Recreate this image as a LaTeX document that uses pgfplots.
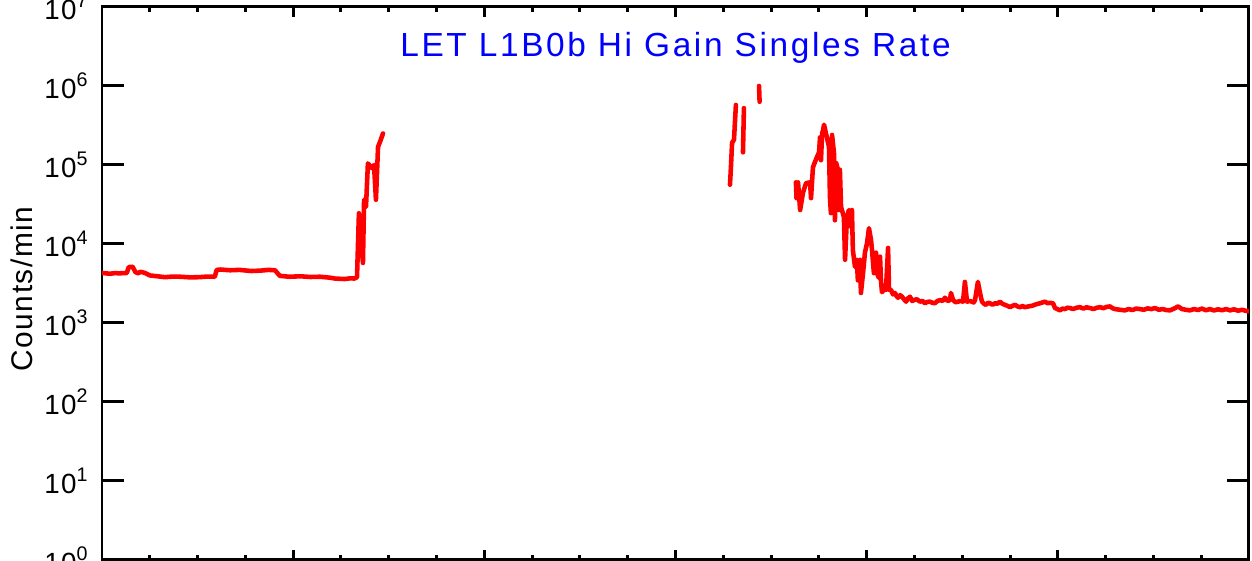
\documentclass[border=0pt]{standalone}
\usepackage{pgfplots}
\pgfplotsset{compat=1.18}
\usepackage{fontspec}
\setmainfont{Liberation Sans}
\newfontfamily\spaced[LetterSpace=8]{Liberation Sans}
\newfontfamily\spacedb[LetterSpace=5]{Liberation Sans}
\newcommand\tp[1]{10\raisebox{0.42em}{\fontsize{5.6}{6}\selectfont #1}}
\tikzset{ser/.style={red, line width=1.3pt, line join=round, line cap=round, mark=none}}
\begin{document}
\begin{tikzpicture}
\begin{axis}[
  at={(0,0)}, anchor=south west,
  scale only axis, width=11.47cm, height=5.53cm,
  ymode=log, ymin=1, ymax=1e7,
  xmin=0, xmax=6,
  xtick={0,1,2,3,4,5,6}, minor x tick num=3, xticklabels={},
  ytick={1,10,100,1000,10000,100000,1000000,10000000},
  yticklabels={\tp{0},\tp{1},\tp{2},\tp{3},\tp{4},\tp{5},\tp{6},\tp{7}},
  yminorticks=false,
  yticklabel style={font=\spacedb\fontsize{7.9}{9}\selectfont, xshift=-0.02cm},
  axis line style={line width=0.85pt, black},
  xtick style={line width=0.85pt, black, /pgfplots/major tick length=0.10cm, /pgfplots/minor tick length=0.05cm},
  ytick style={line width=0.85pt, black, /pgfplots/major tick length=0.22cm},
  ylabel={Counts/min},
  ylabel style={font=\spacedb\fontsize{8.5}{10}\selectfont, at={(axis description cs:0,0.49)}, anchor=center, yshift=0.80cm},
  clip=true,
]
\addplot[ser] coordinates {
(0,4300) (0.02,4250) (0.04,4200) (0.07,4280) (0.09,4250) (0.13,4300) (0.14,5100) (0.16,5150) (0.175,4400) (0.19,4250) (0.20,4450) (0.225,4300) (0.25,4000) (0.29,3900) (0.33,3800) (0.37,3870) (0.41,3850) (0.46,3780) (0.51,3800) (0.55,3870) (0.59,3850) (0.60,4700) (0.62,4750) (0.67,4650) (0.72,4700) (0.78,4550) (0.83,4600) (0.87,4700) (0.905,4650) (0.93,3950) (0.98,3850) (1.04,3900) (1.09,3820) (1.14,3850) (1.19,3750) (1.22,3650) (1.27,3600) (1.30,3680) (1.32,3650) (1.334,3800) (1.344,24500) (1.365,5750) (1.371,36300) (1.381,29500) (1.391,104700) (1.412,91200) (1.423,100000) (1.433,36300) (1.444,169800) (1.454,195000) (1.470,251000)
};
\addplot[ser] coordinates {
(3.285,56234) (3.290,93325) (3.296,190546) (3.306,208930) (3.316,575440)
};
\addplot[ser] coordinates {
(3.353,144544) (3.358,524807)
};
\addplot[ser] coordinates {
(3.437,1000000) (3.440,630957)
};
\addplot[ser] coordinates {
(3.630,60256) (3.633,38019) (3.641,60256) (3.652,26915) (3.667,44668) (3.683,58884) (3.704,60256) (3.709,38019) (3.719,93325) (3.730,109648) (3.740,125893) (3.751,144544) (3.756,223872) (3.761,114815) (3.767,251189) (3.772,275423) (3.777,323594) (3.803,169824) (3.808,38905) (3.813,24547) (3.819,239883) (3.829,141254) (3.834,19953) (3.840,107152) (3.850,87096) (3.855,26915) (3.860,87096) (3.866,29512) (3.881,21878) (3.887,6310) (3.897,21878) (3.907,26915) (3.918,16596) (3.923,26915) (3.928,8318) (3.939,5129) (3.949,6310) (3.954,3467) (3.965,6310) (3.970,2399) (3.981,4266) (3.991,7762) (4.002,10233) (4.012,15849) (4.023,11220) (4.028,8318) (4.038,4266) (4.049,7762) (4.054,4266) (4.064,3715) (4.070,6918) (4.075,3467) (4.080,2455) (4.090,2630) (4.101,2630) (4.112,8913) (4.117,2630) (4.127,2630) (4.138,2300) (4.148,2399) (4.156,2200) (4.164,2089) (4.175,2250) (4.185,2150) (4.195,2000) (4.206,1862) (4.216,2050) (4.227,2150) (4.238,1900) (4.248,1950) (4.262,2000) (4.279,1862) (4.292,1900) (4.305,1778) (4.318,1850) (4.331,1862) (4.344,1800) (4.357,1778) (4.370,1900) (4.384,1950) (4.397,1900) (4.410,2089) (4.423,1900) (4.436,1950) (4.441,2399) (4.452,1950) (4.465,1830) (4.478,1862) (4.491,1900) (4.504,1862) (4.514,3311) (4.525,1862) (4.538,1900) (4.551,1862) (4.560,1820) (4.567,1950) (4.582,3311) (4.593,2399) (4.603,1862) (4.614,1750) (4.624,1698) (4.635,1800) (4.645,1778) (4.658,1700) (4.671,1778) (4.684,1750) (4.697,1862) (4.710,1750) (4.723,1698) (4.736,1650) (4.750,1585) (4.763,1650) (4.776,1698) (4.789,1620) (4.802,1585) (4.815,1640) (4.828,1585) (4.846,1620) (4.865,1650) (4.885,1720) (4.907,1778) (4.920,1820) (4.933,1862) (4.946,1780) (4.959,1800) (4.975,1778) (4.985,1549) (4.998,1500) (5.011,1445) (5.024,1520) (5.037,1500) (5.050,1560) (5.063,1549) (5.080,1500) (5.098,1560) (5.116,1585) (5.134,1520) (5.150,1580) (5.168,1549) (5.186,1500) (5.204,1560) (5.221,1585) (5.238,1540) (5.256,1600) (5.273,1620) (5.286,1540) (5.299,1500) (5.325,1470) (5.351,1445) (5.371,1500) (5.390,1460) (5.410,1520) (5.430,1500) (5.450,1470) (5.470,1530) (5.490,1500) (5.508,1549) (5.528,1470) (5.548,1500) (5.567,1460) (5.587,1445) (5.608,1520) (5.629,1620) (5.650,1500) (5.670,1470) (5.691,1445) (5.712,1500) (5.733,1460) (5.754,1520) (5.775,1450) (5.796,1500) (5.817,1440) (5.838,1490) (5.859,1450) (5.880,1500) (5.901,1445) (5.922,1490) (5.943,1430) (5.964,1470) (5.985,1420) (6.000,1413)
};
\node[anchor=base, text=blue, font=\spaced\fontsize{9.5}{11}\selectfont] at (rel axis cs:0.5,1) [yshift=-0.50cm] {LET L1B0b Hi Gain Singles Rate};
\end{axis}
\pgfresetboundingbox
\path (-1.02cm,-0.01cm) rectangle (11.50cm,5.60cm);
\end{tikzpicture}
\end{document}
